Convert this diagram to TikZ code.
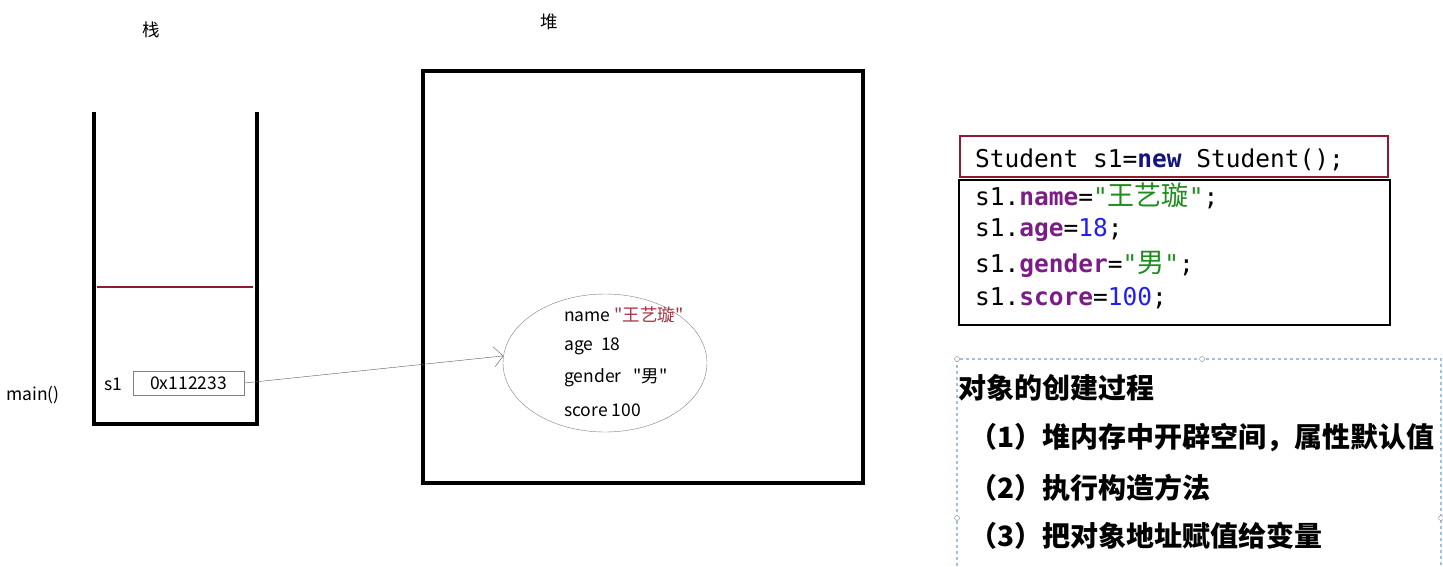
\documentclass[tikz,border=0pt]{standalone}
\usepackage{fontspec}
\setmainfont{Noto Sans CJK SC}
\setmonofont{DejaVu Sans Mono}
\newfontfamily\cjk{Noto Sans CJK SC}
\usetikzlibrary{shapes.geometric,arrows.meta}

\definecolor{frameRed}{HTML}{8E1B2E}
\definecolor{keyPurple}{HTML}{7A1E86}
\definecolor{strGreen}{HTML}{1E8C1E}
\definecolor{numBlue}{HTML}{1F1FF0}
\definecolor{newNavy}{HTML}{14147A}
\definecolor{valRed}{HTML}{A8323E}
\definecolor{selBlue}{HTML}{9CC2E5}

\newcommand\labelSize{\fontsize{17.5}{20}\selectfont}
\newcommand\codeSize{\fontsize{24.5}{28}\selectfont\ttfamily}
\newcommand\noteSize{\fontsize{28}{32}\selectfont\bfseries}
\newcommand\fld[1]{\textcolor{keyPurple}{\textbf{#1}}}
\newcommand\str[1]{\textcolor{strGreen}{"{\cjk\fontsize{27}{28}\selectfont #1}"}}
\newcommand\num[1]{\textcolor{numBlue}{#1}}

\tikzset{
  wall/.style={line width=4pt},
  codebox/.style={line width=2.5pt},
  txtlabel/.style={font=\labelSize,inner sep=0pt},
  codeline/.style={anchor=west,font=\codeSize,inner sep=0pt},
  noteline/.style={anchor=west,font=\noteSize,inner sep=0pt}
}

\begin{document}
\begin{tikzpicture}[x=1pt,y=-1pt]
    \useasboundingbox (0,0) rectangle (1443,566);

    % titles
    \node[txtlabel] (stackTitle) at (151,30) {栈};
    \node[txtlabel] (heapTitle) at (549,22) {堆};

    % stack walls
    \draw[wall] (94,112) -- (94,424) -- (257,424) -- (257,112);
    \draw[frameRed,line width=2pt] (97,287) -- (253,287);

    % heap border
    \draw[wall] (423,71) rectangle (863,483);

    % main frame
    \node[txtlabel] (mainLbl) at (33,395) {main()};
    \node[txtlabel] (varName) at (113,384) {s1};
    \node[txtlabel,draw=gray,line width=1pt,minimum width=111pt,minimum height=24pt] (addr) at (188.5,383) {0x112233};

    % object in heap
    \node[draw=gray,ellipse,minimum width=204pt,minimum height=138pt,inner sep=0pt] (obj) at (605,363) {};
    \foreach \y/\txt in {315/name \textcolor{valRed}{\cjk"王艺璇"},346/age\ \ 18,378/gender\ \ \ {\cjk"男"},410/score 100} {
      \node[txtlabel,anchor=west] at (564,\y) {\txt};
    }

    % reference
    \draw[gray!70!black,-{Straight Barb[length=9pt,width=20pt]}] (addr.east) -- (obj.176);

    % code
    \draw[codebox,draw=frameRed] (960,136) rectangle (1388,177);
    \draw[codebox] (959,180) rectangle (1390,325);
    \node[codeline] (newLine) at (975,160) {Student s1=\textcolor{newNavy}{\textbf{new}} Student();};
    \foreach \y/\txt in {196/{s1.\fld{name}=\str{王艺璇};},
                         230/{s1.\fld{age}=\num{18};},
                         264/{s1.\fld{gender}=\str{男};},
                         298/{s1.\fld{score}=\num{100};}} {
      \node[codeline] at (975,\y) {\txt};
    }

    % selection frame
    \draw[selBlue,line width=1.5pt,dash pattern=on 3pt off 3pt] (957,566) -- (957,359) -- (1441,359) -- (1441,566);
    \foreach \p in {(957,359),(1202,359),(957,518),(1441,518)} {
      \draw[gray,fill=white] \p circle (2.5pt);
    }

    % notes
    \node[noteline] (noteHead) at (958,388) {对象的创建过程};
    \foreach \y/\txt in {438/（1）堆内存中开辟空间，属性默认值,488/（2）执行构造方法,536/（3）把对象地址赋值给变量} {
      \node[noteline] at (969,\y) {\txt};
    }
  \end{tikzpicture}
\end{document}
